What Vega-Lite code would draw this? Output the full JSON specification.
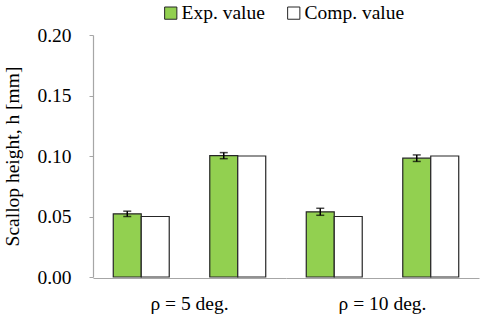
{
  "$schema": "https://vega.github.io/schema/vega-lite/v6.json",
  "padding": {"left": 2, "top": 3, "right": 2, "bottom": 2},
  "background": "white",
  "config": {
    "font": "Liberation Serif, Times New Roman, serif",
    "view": {"stroke": null}
  },
  "data": {
    "values": [
      {"rho": "ρ = 5 deg.", "sub": "a", "series": "Exp. value", "value": 0.0522, "err": 0.0022},
      {"rho": "ρ = 5 deg.", "sub": "a", "series": "Comp. value", "value": 0.05, "err": null},
      {"rho": "ρ = 5 deg.", "sub": "b", "series": "Exp. value", "value": 0.1003, "err": 0.0025},
      {"rho": "ρ = 5 deg.", "sub": "b", "series": "Comp. value", "value": 0.10, "err": null},
      {"rho": "ρ = 10 deg.", "sub": "a", "series": "Exp. value", "value": 0.0539, "err": 0.0029},
      {"rho": "ρ = 10 deg.", "sub": "a", "series": "Comp. value", "value": 0.05, "err": null},
      {"rho": "ρ = 10 deg.", "sub": "b", "series": "Exp. value", "value": 0.0982, "err": 0.0027},
      {"rho": "ρ = 10 deg.", "sub": "b", "series": "Comp. value", "value": 0.10, "err": null}
    ]
  },
  "facet": {
    "column": {
      "field": "rho",
      "type": "nominal",
      "sort": ["ρ = 5 deg.", "ρ = 10 deg."],
      "title": null,
      "header": {"labelOrient": "bottom", "labelFont": "Liberation Serif, serif", "labelFontSize": 19.5, "labelPadding": 17, "labelColor": "#000"}
    }
  },
  "spacing": 0,
  "spec": {
    "width": 193,
    "height": 242,
    "layer": [
      {
        "mark": {"type": "bar", "stroke": "#262626", "strokeWidth": 1.2},
        "encoding": {
          "x": {
            "field": "sub", "type": "nominal",
            "scale": {"paddingInner": 0.42, "paddingOuter": 0.21},
            "axis": {"title": null, "labels": false, "ticks": false, "domainColor": "#a6a6a6", "domainWidth": 1.2}
          },
          "xOffset": {"field": "series", "type": "nominal", "scale": {"domain": ["Exp. value", "Comp. value"], "paddingInner": 0, "paddingOuter": 0}},
          "y": {
            "field": "value", "type": "quantitative",
            "scale": {"domain": [0, 0.2], "nice": false},
            "axis": {
              "title": "Scallop height, h [mm]", "titleFont": "Liberation Serif, serif", "titleFontSize": 19.5, "titleFontWeight": "normal", "titleColor": "#000", "titlePadding": 14,
              "values": [0, 0.05, 0.1, 0.15, 0.2], "format": ".2f", "labelFont": "Liberation Serif, serif", "labelFontSize": 19.5, "labelColor": "#000",
              "grid": false, "domainColor": "#a6a6a6", "domainWidth": 1.2, "tickColor": "#a6a6a6", "tickSize": 4, "labelPadding": 18
            }
          },
          "fill": {
            "field": "series", "type": "nominal",
            "scale": {"domain": ["Exp. value", "Comp. value"], "range": ["#92d050", "#ffffff"]},
            "legend": {
              "title": null, "orient": "none", "legendX": 68, "legendY": -32, "direction": "horizontal", "labelFont": "Liberation Serif, serif", "labelFontSize": 19.5, "labelColor": "#000",
              "symbolType": "square", "symbolSize": 150, "symbolStrokeColor": "#262626", "symbolStrokeWidth": 1,
              "columnPadding": 19, "labelOffset": 1
            }
          }
        }
      },
      {
        "transform": [{"filter": "datum.err != null"}, {"calculate": "datum.value - datum.err", "as": "lo"}, {"calculate": "datum.value + datum.err", "as": "hi"}],
        "mark": {"type": "rule", "color": "#000", "strokeWidth": 1.5},
        "encoding": {
          "x": {"field": "sub", "type": "nominal"},
          "xOffset": {"field": "series", "type": "nominal"},
          "y": {"field": "lo", "type": "quantitative"},
          "y2": {"field": "hi"}
        }
      },
      {
        "transform": [{"filter": "datum.err != null"}, {"calculate": "datum.value - datum.err", "as": "lo"}, {"fold": ["lo"], "as": ["k", "v"]}],
        "mark": {"type": "tick", "color": "#000", "thickness": 1.5, "size": 8},
        "encoding": {
          "x": {"field": "sub", "type": "nominal"},
          "xOffset": {"field": "series", "type": "nominal"},
          "y": {"field": "v", "type": "quantitative"}
        }
      },
      {
        "transform": [{"filter": "datum.err != null"}, {"calculate": "datum.value + datum.err", "as": "hi"}, {"fold": ["hi"], "as": ["k", "v"]}],
        "mark": {"type": "tick", "color": "#000", "thickness": 1.5, "size": 8},
        "encoding": {
          "x": {"field": "sub", "type": "nominal"},
          "xOffset": {"field": "series", "type": "nominal"},
          "y": {"field": "v", "type": "quantitative"}
        }
      }
    ]
  }
}
